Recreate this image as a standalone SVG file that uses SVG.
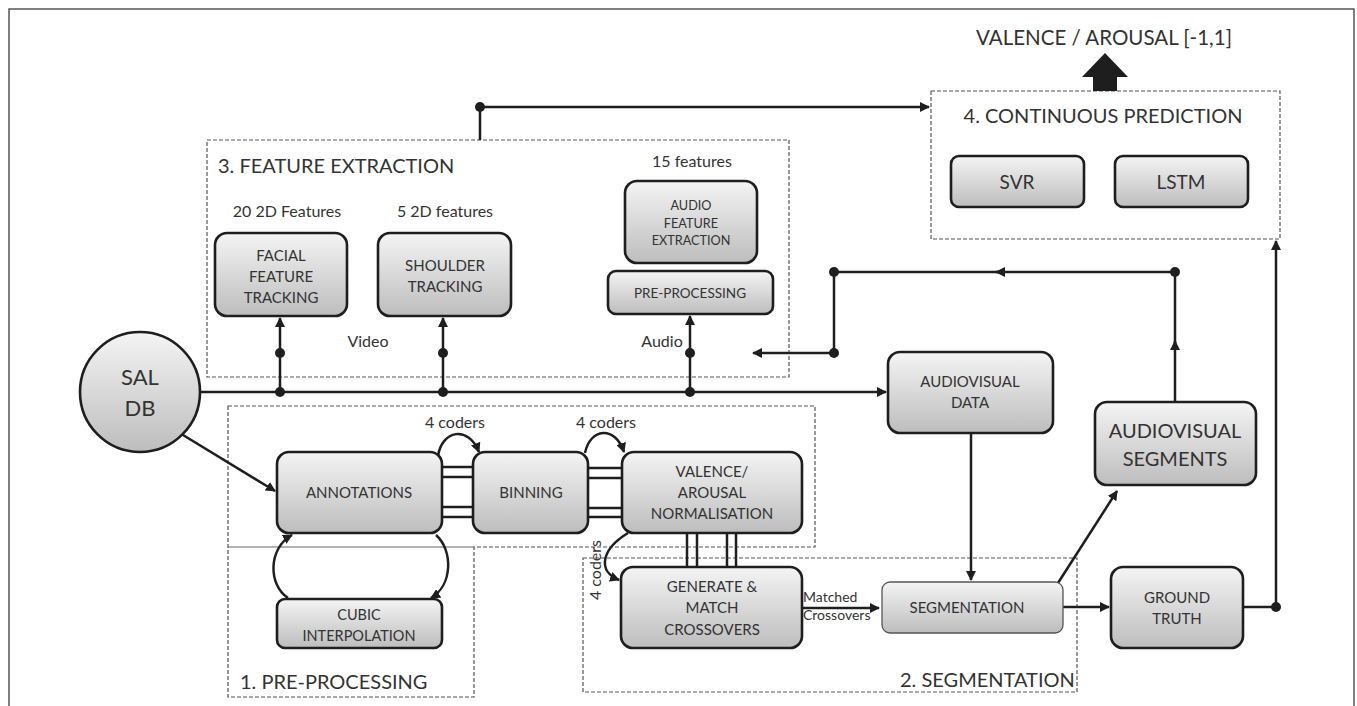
<svg xmlns="http://www.w3.org/2000/svg" width="1357" height="706" viewBox="0 0 1357 706">
<style>
.t{font-family:Lato,"Liberation Sans",sans-serif;fill:#333;text-anchor:middle}
.h{font-family:Lato,"Liberation Sans",sans-serif;fill:#333;font-size:20px}
.n{stroke:#1e1e1e;stroke-width:2.6;fill:url(#g)}
.c{stroke:#1e1e1e;stroke-width:2.5;fill:none}
.d{stroke:#555;stroke-width:1.2;fill:none;stroke-dasharray:4 2}
.dot{fill:#1e1e1e}
</style>
<defs>
<linearGradient id="g" x1="0" y1="0" x2="0" y2="1">
<stop offset="0" stop-color="#f4f4f4"/>
<stop offset="1" stop-color="#bdbdbd"/>
</linearGradient>
<marker id="a" viewBox="0 0 10 10" refX="9" refY="5" markerWidth="10" markerHeight="10" markerUnits="userSpaceOnUse" orient="auto">
<path d="M0,0 L10,5 L0,10 Z" fill="#1e1e1e"/>
</marker>
</defs>
<rect width="1357" height="706" fill="#fff"/>
<path d="M9,706 V9 H1354 V706" fill="none" stroke="#555" stroke-width="1.5"/>

<g id="frames">
<rect x="207" y="140" width="582" height="237" class="d"/>
<path d="M228,406 H815 V547 H474 V697 H228 Z" class="d"/>
<line x1="228" y1="547" x2="474" y2="547" stroke="#666" stroke-width="1"/>
<rect x="583" y="558" width="494" height="134" class="d"/>
<rect x="931" y="91" width="349" height="148" class="d"/>
<text class="h" x="218" y="173">3. FEATURE EXTRACTION</text>
<text class="h" x="240" y="689" font-size="19">1. PRE-PROCESSING</text>
<text class="h" x="900" y="687">2. SEGMENTATION</text>
<text class="h" x="1103" y="123" text-anchor="middle">4. CONTINUOUS PREDICTION</text>
</g>

<g id="connectors">
<path class="c" d="M200,392 H886" marker-end="url(#a)"/>
<path class="c" d="M280,392 V318" marker-end="url(#a)"/>
<path class="c" d="M443,392 V318" marker-end="url(#a)"/>
<path class="c" d="M690,392 V316" marker-end="url(#a)"/>
<path class="c" d="M480,140 V107 H929" marker-end="url(#a)"/>
<path class="c" d="M1175,402 V341" marker-end="url(#a)"/>
<path class="c" d="M1175,345 V272 H996" marker-end="url(#a)"/>
<path class="c" d="M1000,272 H834 V353 H753" marker-end="url(#a)"/>
<path class="c" d="M1243,607 H1276 V241" marker-end="url(#a)"/>
<path class="c" d="M971,433 V580" marker-end="url(#a)"/>
<path class="c" d="M1058,583 L1117,491" marker-end="url(#a)"/>
<path class="c" d="M1063,607 H1109" marker-end="url(#a)"/>
<path class="c" d="M802,608 H879" marker-end="url(#a)"/>
<path class="c" d="M183,435 L275,491" marker-end="url(#a)"/>
<path class="c" d="M442,467 H473 M442,477 H473 M442,507 H473 M442,517 H473"/>
<path class="c" d="M588,468 H622 M588,478 H622 M588,508 H622 M588,517 H622"/>
<path class="c" d="M687,533 V567 M697,533 V567 M727,533 V567 M736,533 V567"/>
<path class="c" d="M438,456 C442,430 468,425 479,452" marker-end="url(#a)"/>
<path class="c" d="M585,453 C590,428 615,425 624,452" marker-end="url(#a)"/>
<path class="c" d="M628,533 C600,550 598,572 619,580" marker-end="url(#a)"/>
<path class="c" d="M288,598 C268,585 268,548 292,535" marker-end="url(#a)"/>
<path class="c" d="M436,535 C453,550 453,585 431,598" marker-end="url(#a)"/>
<path d="M1093,91 V77 H1082 L1105,53 L1128,77 H1117 V91 Z" fill="#1e1e1e"/>
<circle class="dot" cx="280" cy="392" r="5"/>
<circle class="dot" cx="280" cy="353" r="5"/>
<circle class="dot" cx="443" cy="392" r="5"/>
<circle class="dot" cx="443" cy="353" r="5"/>
<circle class="dot" cx="690" cy="392" r="5"/>
<circle class="dot" cx="690" cy="353" r="5"/>
<circle class="dot" cx="480" cy="107" r="5"/>
<circle class="dot" cx="1175" cy="272" r="5"/>
<circle class="dot" cx="834" cy="272" r="5"/>
<circle class="dot" cx="834" cy="353" r="5"/>
<circle class="dot" cx="1276" cy="607" r="5"/>
<text class="t" x="368" y="347" font-size="16">Video</text>
<text class="t" x="662" y="347" font-size="16">Audio</text>
<text class="t" x="455" y="428" font-size="16">4 coders</text>
<text class="t" x="606" y="428" font-size="16">4 coders</text>
<text class="t" x="0" y="0" font-size="16" transform="translate(601,570) rotate(-90)">4 coders</text>
<text x="803" y="602" font-size="14" font-family="Lato,'Liberation Sans',sans-serif" fill="#333">Matched</text>
<text x="803" y="620" font-size="14" font-family="Lato,'Liberation Sans',sans-serif" fill="#333">Crossovers</text>
<text class="t" x="1104" y="45" font-size="20.5">VALENCE / AROUSAL [-1,1]</text>
<text class="t" x="287" y="217" font-size="16">20 2D Features</text>
<text class="t" x="445" y="217" font-size="16">5 2D features</text>
<text class="t" x="692" y="167" font-size="16">15 features</text>
</g>

<g id="sal">
<circle cx="140" cy="392" r="60" stroke="#1e1e1e" stroke-width="2.6" fill="url(#g)"/>
<text class="t" x="140" y="385" font-size="22">SAL</text>
<text class="t" x="140" y="416" font-size="22">DB</text>
</g>
<g id="facial">
<rect class="n" x="215" y="233" width="132" height="83" rx="12"/>
<text class="t" x="281" y="261" font-size="15">FACIAL</text>
<text class="t" x="281" y="282" font-size="15">FEATURE</text>
<text class="t" x="281" y="303" font-size="15">TRACKING</text>
</g>
<g id="shoulder">
<rect class="n" x="378" y="233" width="133" height="83" rx="12"/>
<text class="t" x="445" y="271" font-size="15">SHOULDER</text>
<text class="t" x="445" y="292" font-size="15">TRACKING</text>
</g>
<g id="audiofeat">
<rect class="n" x="625" y="181" width="132" height="82" rx="12"/>
<text class="t" x="691" y="210" font-size="12.7">AUDIO</text>
<text class="t" x="691" y="228" font-size="12.7">FEATURE</text>
<text class="t" x="691" y="245" font-size="12.7">EXTRACTION</text>
</g>
<g id="audiopre">
<rect class="n" x="608" y="271" width="165" height="43" rx="8"/>
<text class="t" x="690" y="298" font-size="13.5">PRE-PROCESSING</text>
</g>
<g id="annotations">
<rect class="n" x="277" y="452" width="165" height="81" rx="12"/>
<text class="t" x="359" y="498" font-size="15">ANNOTATIONS</text>
</g>
<g id="cubic">
<rect class="n" x="277" y="599" width="165" height="49" rx="8"/>
<text class="t" x="359" y="620" font-size="14.5">CUBIC</text>
<text class="t" x="359" y="641" font-size="14.5">INTERPOLATION</text>
</g>
<g id="binning">
<rect class="n" x="473" y="452" width="115" height="81" rx="12"/>
<text class="t" x="531" y="498" font-size="15">BINNING</text>
</g>
<g id="valence">
<rect class="n" x="622" y="452" width="180" height="81" rx="12"/>
<text class="t" x="712" y="477" font-size="15">VALENCE/</text>
<text class="t" x="712" y="498" font-size="15">AROUSAL</text>
<text class="t" x="712" y="519" font-size="15">NORMALISATION</text>
</g>
<g id="generate">
<rect class="n" x="621" y="567" width="181" height="81" rx="12"/>
<text class="t" x="712" y="592" font-size="15">GENERATE &amp;</text>
<text class="t" x="712" y="613" font-size="15">MATCH</text>
<text class="t" x="712" y="635" font-size="15">CROSSOVERS</text>
</g>
<g id="segmentation">
<rect x="882" y="582" width="181" height="51" rx="8" stroke="#555" stroke-width="1.3" fill="url(#g)"/>
<text class="t" x="967" y="613" font-size="15">SEGMENTATION</text>
</g>
<g id="avdata">
<rect class="n" x="888" y="352" width="165" height="81" rx="12"/>
<text class="t" x="970" y="387" font-size="15">AUDIOVISUAL</text>
<text class="t" x="970" y="408" font-size="15">DATA</text>
</g>
<g id="avsegments">
<rect class="n" x="1095" y="402" width="161" height="83" rx="12"/>
<text class="t" x="1175" y="438" font-size="20">AUDIOVISUAL</text>
<text class="t" x="1175" y="466" font-size="20">SEGMENTS</text>
</g>
<g id="groundtruth">
<rect class="n" x="1111" y="567" width="132" height="81" rx="12"/>
<text class="t" x="1177" y="603" font-size="15">GROUND</text>
<text class="t" x="1177" y="624" font-size="15">TRUTH</text>
</g>
<g id="svr">
<rect class="n" x="951" y="156" width="133" height="51" rx="8"/>
<text class="t" x="1017" y="189" font-size="19">SVR</text>
</g>
<g id="lstm">
<rect class="n" x="1115" y="156" width="133" height="51" rx="8"/>
<text class="t" x="1181" y="189" font-size="19">LSTM</text>
</g>
</svg>
